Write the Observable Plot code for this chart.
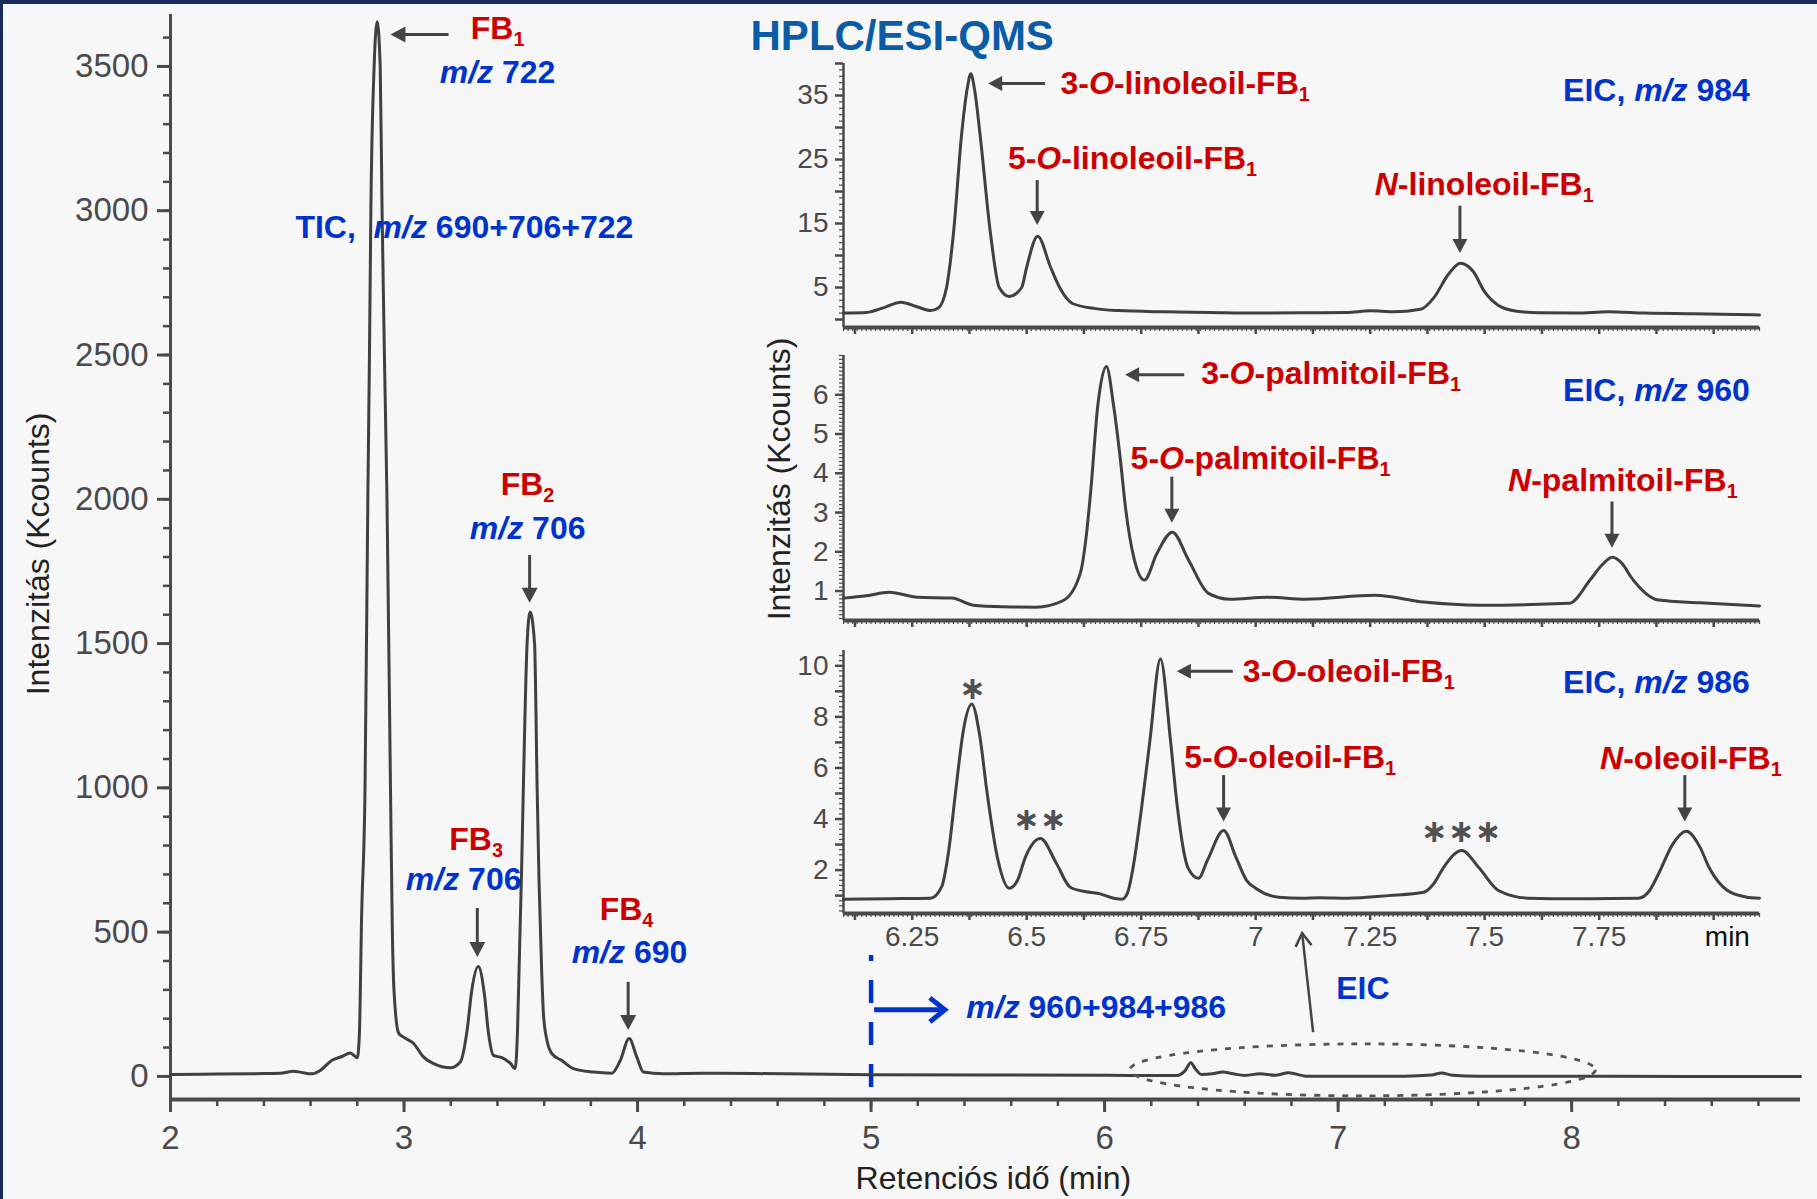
<!DOCTYPE html>
<html lang="hu">
<head>
<meta charset="utf-8">
<title>HPLC/ESI-QMS</title>
<script src="https://cdn.jsdelivr.net/npm/d3@7"></script>
<script src="https://cdn.jsdelivr.net/npm/@observablehq/plot@0.6"></script>
<style>
html,body{margin:0;padding:0;background:#1b2a5c;}
#wrap{position:relative;width:1817px;height:1199px;overflow:hidden;background:#1b2a5c;}
#paper{position:absolute;left:3px;top:4px;width:1814px;height:1195px;background:#f7f7f7;}
.layer{position:absolute;}
.layer svg{max-width:none;overflow:visible;}
</style>
</head>
<body>
<div id="wrap"><div id="paper"></div></div>
<script>
// ---------------- DATA ----------------
// TIC, m/z 690+706+722 (retention time in min, intensity in Kcounts)
const ticTime = [2.00, 2.20, 2.40, 2.47, 2.528, 2.56, 2.606, 2.642, 2.69, 2.735,
  2.77, 2.80, 2.809, 2.813, 2.817, 2.833, 2.845, 2.852, 2.858, 2.872,
  2.885, 2.898, 2.906, 2.916, 2.927, 2.942, 2.95, 2.957, 2.977, 2.998,
  3.04, 3.084, 3.127, 3.198, 3.241, 3.27, 3.29, 3.318, 3.344, 3.362,
  3.383, 3.419, 3.455, 3.476, 3.486, 3.495, 3.503, 3.511, 3.527, 3.540,
  3.559, 3.570, 3.578, 3.590, 3.597, 3.612, 3.633, 3.676, 3.726, 3.811,
  3.89, 3.926, 3.964, 3.997, 4.025, 4.11, 4.27, 4.5, 5.0, 5.5,
  6.0, 6.11, 6.309, 6.345, 6.369, 6.39, 6.414, 6.46, 6.506, 6.55,
  6.6, 6.665, 6.73, 6.788, 6.863, 7.0, 7.285, 7.40, 7.443, 7.49,
  7.6, 8.0, 8.5, 8.98];
const ticIntensity = [7, 8, 10, 11, 18, 14, 9, 21, 55, 69,
  81, 65, 150, 300, 500, 1000, 2000, 2500, 3000, 3500,
  3655, 3500, 3000, 2500, 2000, 1000, 500, 300, 150, 136,
  115, 67, 44, 30, 50, 159, 298, 381, 286, 148,
  73, 65, 46, 27, 159, 448, 700, 1000, 1500, 1609,
  1500, 1000, 680, 350, 217, 125, 79, 55, 27, 15,
  11, 55, 131, 67, 15, 9, 11, 10, 6, 5,
  4, 3.5, 3, 20, 47, 25, 7, 9, 15, 9,
  3.5, 9, 4, 13, 1, 1, 1, 5, 12, 4,
  1, 1, 0, 0];

// EIC, m/z 984
const eic984Time = [6.10, 6.15, 6.19, 6.225, 6.26, 6.29, 6.307, 6.325, 6.34, 6.358,
  6.37, 6.378, 6.386, 6.398, 6.421, 6.44, 6.462, 6.489, 6.50, 6.524,
  6.552, 6.572, 6.60, 6.65, 6.70, 6.80, 6.90, 7.00, 7.10, 7.20,
  7.25, 7.30, 7.36, 7.39, 7.42, 7.447, 7.475, 7.50, 7.53, 7.57,
  7.62, 7.70, 7.77, 7.85, 7.95, 8.05, 8.10];
const eic984Intensity = [1.0, 1.1, 1.9, 2.7, 2.0, 1.4, 1.8, 5, 13.4, 29,
  36, 38.4, 36, 29, 13.4, 5, 3.6, 5, 8.2, 13,
  8.2, 5, 2.5, 1.7, 1.4, 1.2, 1.1, 1.0, 1.05, 1.1,
  1.35, 1.2, 1.6, 3.5, 7, 8.8, 7.5, 4.3, 2.2, 1.3,
  1.05, 1.0, 1.2, 1.0, 0.9, 0.8, 0.7];

// EIC, m/z 960
const eic960Time = [6.10, 6.15, 6.20, 6.262, 6.337, 6.383, 6.45, 6.52, 6.58, 6.617,
  6.63, 6.64, 6.655, 6.674, 6.69, 6.705, 6.716, 6.735, 6.757, 6.784,
  6.818, 6.853, 6.897, 6.943, 7.026, 7.109, 7.26, 7.367, 7.488, 7.685,
  7.73, 7.755, 7.779, 7.80, 7.82, 7.88, 7.97, 8.10];
const eic960Intensity = [0.82, 0.88, 0.97, 0.84, 0.82, 0.64, 0.6, 0.59, 0.76, 1.45,
  2.4, 3.57, 5.7, 6.72, 5.7, 4.3, 3.1, 1.8, 1.28, 1.95,
  2.5, 1.8, 0.94, 0.79, 0.84, 0.79, 0.89, 0.72, 0.64, 0.69,
  1.28, 1.65, 1.86, 1.7, 1.35, 0.77, 0.7, 0.62];

// EIC, m/z 986
const eic986Time = [6.10, 6.20, 6.29, 6.314, 6.33, 6.345, 6.362, 6.38, 6.398, 6.413,
  6.436, 6.462, 6.48, 6.497, 6.53, 6.565, 6.595, 6.63, 6.655, 6.69,
  6.708, 6.72, 6.73, 6.751, 6.769, 6.792, 6.814, 6.829, 6.852, 6.875,
  6.895, 6.93, 6.957, 6.98, 7.00, 7.05, 7.10, 7.14, 7.20, 7.29,
  7.367, 7.39, 7.41, 7.45, 7.487, 7.53, 7.594, 7.70, 7.836, 7.86,
  7.88, 7.91, 7.94, 7.97, 7.99, 8.03, 8.07, 8.10];
const eic986Intensity = [0.86, 0.88, 0.9, 1.33, 2.8, 5.1, 7.5, 8.5, 7.2, 5.1,
  2.5, 1.29, 1.6, 2.5, 3.24, 2.26, 1.33, 1.15, 1.09, 0.9,
  0.86, 1.1, 1.87, 4.46, 7.07, 10.27, 7.07, 4.46, 2.1, 1.68,
  2.4, 3.55, 2.5, 1.6, 1.29, 0.94, 0.9, 0.92, 0.9, 1.0,
  1.13, 1.5, 2.1, 2.77, 2.1, 1.2, 0.9, 0.88, 0.9, 1.2,
  1.87, 3.0, 3.52, 2.9, 2.1, 1.2, 0.95, 0.9];

// tick labels
const mainXTicks = [2, 3, 4, 5, 6, 7, 8];
const mainYTicks = [0, 500, 1000, 1500, 2000, 2500, 3000, 3500];
const insetXTicks = [6.25, 6.5, 6.75, 7, 7.25, 7.5, 7.75];
const eic984YTicks = [5, 15, 25, 35];
const eic960YTicks = [1, 2, 3, 4, 5, 6];
const eic986YTicks = [2, 4, 6, 8, 10];

// annotations (positions in data units)
const mainLabels = [
  {text: "FB<s>1</s>", x: 3.288, y: 3635, kind: "red"},
  {text: "<i>m/z</i> 722", x: 3.155, y: 3482, kind: "blue"},
  {text: "TIC,  <i>m/z</i> 690+706+722", x: 2.537, y: 2945, kind: "blue"},
  {text: "FB<s>2</s>", x: 3.416, y: 2053, kind: "red"},
  {text: "<i>m/z</i> 706", x: 3.284, y: 1902, kind: "blue"},
  {text: "FB<s>3</s>", x: 3.196, y: 823, kind: "red"},
  {text: "<i>m/z</i> 706", x: 3.01, y: 683, kind: "blue"},
  {text: "FB<s>4</s>", x: 3.84, y: 579, kind: "red"},
  {text: "<i>m/z</i> 690", x: 3.72, y: 430, kind: "blue"},
  {text: "<i>m/z</i> 960+984+986", x: 5.41, y: 239, kind: "blue"},
  {text: "EIC", x: 6.994, y: 305, kind: "blue"}
];
const mainArrows = [
  {x1: 3.193, y1: 3609, x2: 2.944, y2: 3609},
  {x1: 3.540, y1: 1805, x2: 3.540, y2: 1640},
  {x1: 3.316, y1: 582, x2: 3.316, y2: 412},
  {x1: 3.962, y1: 326, x2: 3.962, y2: 159}
];
const eicPointer = [{x1: 6.895, y1: 152, x2: 6.848, y2: 495}];
const scanArrow = [{x1: 5.015, y1: 229, x2: 5.318, y2: 229}];
const eicRegion = {cx: 7.107, cy: 21, rx: 0.997, ry: 90};

const eic984Labels = [
  {text: "3-<i>O</i>-linoleoil-FB<s>1</s>", x: 6.575, y: 37.0, kind: "red"},
  {text: "5-<i>O</i>-linoleoil-FB<s>1</s>", x: 6.46, y: 25.2, kind: "red"},
  {text: "<i>N</i>-linoleoil-FB<s>1</s>", x: 7.261, y: 21.25, kind: "red"},
  {text: "EIC, <i>m/z</i> 984", x: 8.08, y: 35.8, kind: "blue", anchor: "end"}
];
const eic984Arrows = [
  {x1: 6.541, y1: 36.8, x2: 6.417, y2: 36.8},
  {x1: 6.524, y1: 21.7, x2: 6.524, y2: 14.7},
  {x1: 7.447, y1: 17.7, x2: 7.447, y2: 10.3}
];
const eic960Labels = [
  {text: "3-<i>O</i>-palmitoil-FB<s>1</s>", x: 6.882, y: 6.55, kind: "red"},
  {text: "5-<i>O</i>-palmitoil-FB<s>1</s>", x: 6.728, y: 4.39, kind: "red"},
  {text: "<i>N</i>-palmitoil-FB<s>1</s>", x: 7.552, y: 3.83, kind: "red"},
  {text: "EIC, <i>m/z</i> 960", x: 8.08, y: 6.12, kind: "blue", anchor: "end"}
];
const eic960Arrows = [
  {x1: 6.845, y1: 6.5, x2: 6.716, y2: 6.5},
  {x1: 6.818, y1: 3.9, x2: 6.818, y2: 2.73},
  {x1: 7.779, y1: 3.27, x2: 7.779, y2: 2.09}
];
const eic986Labels = [
  {text: "3-<i>O</i>-oleoil-FB<s>1</s>", x: 6.973, y: 9.8, kind: "red"},
  {text: "5-<i>O</i>-oleoil-FB<s>1</s>", x: 6.845, y: 6.42, kind: "red"},
  {text: "<i>N</i>-oleoil-FB<s>1</s>", x: 7.753, y: 6.4, kind: "red"},
  {text: "EIC, <i>m/z</i> 986", x: 8.08, y: 9.35, kind: "blue", anchor: "end"},
  {text: "∗", x: 6.383, y: 9.14, kind: "star", anchor: "middle"},
  {text: "∗∗", x: 6.53, y: 4.0, kind: "star", anchor: "middle"},
  {text: "∗∗∗", x: 7.45, y: 3.55, kind: "star", anchor: "middle"},
  {text: "min", x: 8.031, y: -0.586, kind: "unit", anchor: "middle"}
];
const eic986Arrows = [
  {x1: 6.951, y1: 9.77, x2: 6.829, y2: 9.77},
  {x1: 6.931, y1: 5.7, x2: 6.931, y2: 3.88},
  {x1: 7.938, y1: 5.7, x2: 7.938, y2: 3.88}
];
const titles = [
  {text: "HPLC/ESI-QMS", x: 4.486, y: 3607, kind: "title"},
  {text: "Intenzitás (Kcounts)", x: 1.431, y: 1809, kind: "axis", anchor: "middle", rotate: -90},
  {text: "Retenciós idő (min)", x: 5.526, y: -353, kind: "axis", anchor: "middle"},
  {text: "Intenzitás (Kcounts)", x: 4.604, y: 2069, kind: "axis", anchor: "middle", rotate: -90}
];

// ---------------- STYLE ----------------
const FONT = "'Liberation Sans', Arial, Helvetica, sans-serif";
const AX = "#4a4a4a", TRACE = "#404040";
const KINDS = {
  red: {fill: "#cc0000", size: 32, weight: "bold"},
  blue: {fill: "#0033cc", size: 32, weight: "bold"},
  title: {fill: "#0b5ca6", size: 42, weight: "bold"},
  axis: {fill: "#222", size: 32, weight: "normal"},
  unit: {fill: "#111", size: 28, weight: "normal"},
  star: {fill: "#505050", size: 32, weight: "bold", family: "'DejaVu Sans', sans-serif"}
};

function parseRich(s) {
  const parts = [], re = /<(i|s)>(.*?)<\/\1>|([^<]+)/g;
  let m;
  while ((m = re.exec(s))) parts.push(m[3] != null ? {t: m[3], k: ""} : {t: m[2], k: m[1]});
  return parts;
}
function textMark(items) {
  return (index, scales) => {
    const g = d3.create("svg:g");
    for (const it of items) {
      const st = KINDS[it.kind];
      const px = scales.x(it.x), py = scales.y(it.y);
      const t = g.append("text")
        .attr("x", px).attr("y", py + 0.36 * st.size)
        .attr("text-anchor", it.anchor || "start")
        .attr("font-family", st.family || FONT)
        .attr("font-size", st.size)
        .attr("font-weight", st.weight)
        .attr("fill", st.fill)
        .style("white-space", "pre");
      if (it.rotate) t.attr("transform", `rotate(${it.rotate},${px},${py})`);
      for (const p of parseRich(it.text)) {
        const sp = t.append("tspan").text(p.t);
        if (p.k === "i") sp.attr("font-style", "italic");
        if (p.k === "s") sp.attr("font-size", st.size * 0.62).attr("dy", st.size * 0.22);
      }
    }
    return g.node();
  };
}
function arrowMark(items, {color = "#444", width = 3, head = 14, half = 8, open = false} = {}) {
  return (index, scales) => {
    const g = d3.create("svg:g").attr("stroke", color).attr("stroke-width", width);
    for (const a of items) {
      const x1 = scales.x(a.x1), y1 = scales.y(a.y1), x2 = scales.x(a.x2), y2 = scales.y(a.y2);
      const L = Math.hypot(x2 - x1, y2 - y1) || 1, ux = (x2 - x1) / L, uy = (y2 - y1) / L;
      const bx = x2 - ux * head, by = y2 - uy * head;
      const p1 = [bx - uy * half, by + ux * half], p2 = [bx + uy * half, by - ux * half];
      if (open) {
        g.append("line").attr("x1", x1).attr("y1", y1).attr("x2", x2 - ux).attr("y2", y2 - uy);
        g.append("polyline").attr("points", `${p1} ${x2},${y2} ${p2}`).attr("fill", "none").attr("stroke-linejoin", "miter");
      } else {
        g.append("line").attr("x1", x1).attr("y1", y1).attr("x2", bx + ux).attr("y2", by + uy);
        g.append("polygon").attr("points", `${p1} ${x2},${y2} ${p2}`).attr("fill", color).attr("stroke", "none");
      }
    }
    return g.node();
  };
}
function ellipseMark(e) {
  return (index, scales) => d3.create("svg:ellipse")
    .attr("cx", scales.x(e.cx)).attr("cy", scales.y(e.cy))
    .attr("rx", Math.abs(scales.x(e.cx + e.rx) - scales.x(e.cx)))
    .attr("ry", Math.abs(scales.y(e.cy + e.ry) - scales.y(e.cy)))
    .attr("fill", "none").attr("stroke", "#555").attr("stroke-width", 2.8)
    .attr("stroke-dasharray", "6 8").node();
}
const toRows = (ts, vs) => ts.map((t, i) => ({t, v: vs[i]}));
const baseStyle = {background: "transparent", fontFamily: FONT, overflow: "visible"};

// ---------------- MAIN CHART ----------------
const main = Plot.plot({
  width: 1817, height: 1199,
  marginLeft: 170, marginRight: 17, marginTop: 14, marginBottom: 100,
  x: {domain: [2, 8.98]},
  y: {domain: [-80, 3680]},
  style: baseStyle,
  marks: [
    Plot.axisX(d3.range(10, 45).map(i => i / 5), {anchor: "bottom", tickSize: 7, strokeWidth: 2.5, stroke: AX, fill: "none", label: null}),
    Plot.axisX(mainXTicks, {anchor: "bottom", tickSize: 13, strokeWidth: 3, tickPadding: 13, stroke: AX, fill: AX, fontSize: 33, tickFormat: String, label: null}),
    Plot.axisY(d3.range(0, 37).map(i => i * 100), {anchor: "left", tickSize: 7, strokeWidth: 2.5, stroke: AX, fill: "none", label: null}),
    Plot.axisY(mainYTicks, {anchor: "left", tickSize: 13, strokeWidth: 3, tickPadding: 9, stroke: AX, fill: AX, fontSize: 33, tickFormat: String, label: null}),
    Plot.ruleY([-80], {stroke: AX, strokeWidth: 4}),
    Plot.ruleX([2], {stroke: AX, strokeWidth: 3}),
    Plot.ruleX([5], {y1: -38, y2: 419, stroke: "#0033cc", strokeWidth: 4.5, strokeDasharray: "23 19"}),
    Plot.line(toRows(ticTime, ticIntensity), {x: "t", y: "v", stroke: TRACE, strokeWidth: 3, curve: "monotone-x"}),
    ellipseMark(eicRegion),
    arrowMark(mainArrows, {width: 3, head: 15, half: 8}),
    arrowMark(eicPointer, {width: 2.5, head: 13, half: 8, open: true}),
    arrowMark(scanArrow, {color: "#0033cc", width: 5, head: 15, half: 12, open: true}),
    textMark(mainLabels),
    textMark(titles)
  ]
});

// ---------------- INSETS ----------------
function inset({rows, height, marginTop, marginBottom, yDomain, yLabels, yMajor, yMinor, xLabels, labels, arrows}) {
  return Plot.plot({
    width: 1117, height,
    marginLeft: 143, marginRight: 58, marginTop, marginBottom,
    x: {domain: [6.1, 8.1]},
    y: {domain: yDomain},
    style: baseStyle,
    marks: [
      Plot.axisX(d3.range(610, 811).map(i => i / 100), {anchor: "bottom", tickSize: 4, strokeWidth: 1.2, stroke: AX, fill: "none", label: null}),
      Plot.axisX(d3.range(49, 65).map(i => i / 8), {anchor: "bottom", tickSize: 7, strokeWidth: 2.5, stroke: AX, fill: "none", label: null}),
      xLabels ? Plot.axisX(insetXTicks, {anchor: "bottom", tickSize: 0, tickPadding: 13, fill: AX, fontSize: 28, tickFormat: String, label: null}) : null,
      Plot.axisY(yMinor, {anchor: "left", tickSize: 4, strokeWidth: 1.2, stroke: AX, fill: "none", label: null}),
      Plot.axisY(yMajor, {anchor: "left", tickSize: 8, strokeWidth: 2.5, stroke: AX, fill: "none", label: null}),
      Plot.axisY(yLabels, {anchor: "left", tickSize: 0, tickPadding: 15, fill: AX, fontSize: 28, tickFormat: String, label: null}),
      Plot.ruleX([6.1], {stroke: AX, strokeWidth: 2.5}),
      Plot.ruleY([yDomain[0]], {stroke: AX, strokeWidth: 4}),
      Plot.line(rows, {x: "t", y: "v", stroke: TRACE, strokeWidth: 3, curve: "monotone-x"}),
      arrowMark(arrows, {width: 3, head: 14, half: 7.5}),
      textMark(labels)
    ]
  });
}
const inset984 = inset({
  rows: toRows(eic984Time, eic984Intensity), height: 340, marginTop: 63, marginBottom: 13,
  yDomain: [-1.25, 40], yLabels: eic984YTicks, yMajor: d3.range(0, 9).map(i => i * 5),
  yMinor: d3.range(0, 41), xLabels: false, labels: eic984Labels, arrows: eic984Arrows
});
const inset960 = inset({
  rows: toRows(eic960Time, eic960Intensity), height: 300, marginTop: 15, marginBottom: 20,
  yDomain: [0.25, 7.0], yLabels: eic960YTicks, yMajor: d3.range(1, 7),
  yMinor: d3.range(3, 71).map(i => i / 10), xLabels: false, labels: eic960Labels, arrows: eic960Arrows
});
const inset986 = inset({
  rows: toRows(eic986Time, eic986Intensity), height: 330, marginTop: 10, marginBottom: 57,
  yDomain: [0.3, 10.6], yLabels: eic986YTicks, yMajor: d3.range(1, 11),
  yMinor: d3.range(2, 53).map(i => i / 5), xLabels: true, labels: eic986Labels, arrows: eic986Arrows
});

// ---------------- LAYOUT ----------------
const wrap = document.getElementById("wrap");
function place(node, left, top) {
  const d = document.createElement("div");
  d.className = "layer";
  d.style.left = left + "px";
  d.style.top = top + "px";
  d.appendChild(node);
  wrap.appendChild(d);
}
place(main, 0, 0);
place(inset984, 700, 0);
place(inset960, 700, 340);
place(inset986, 700, 640);
</script>
</body>
</html>
